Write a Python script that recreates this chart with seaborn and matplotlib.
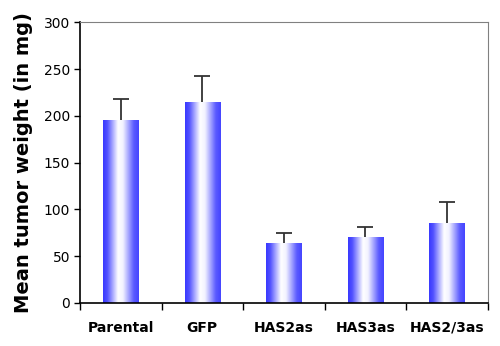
import numpy as np
import pandas as pd
import matplotlib
matplotlib.use("Agg")
import matplotlib.pyplot as plt
from matplotlib.colors import LinearSegmentedColormap
import seaborn as sns

groups = ["Parental", "GFP", "HAS2as", "HAS3as", "HAS2/3as"]
mean_weight = [196, 215, 64, 70, 85]
sem_weight = [22, 28, 11, 11, 23]

sns.set_theme(style="white")
plt.rcParams["font.family"] = ["DejaVu Sans"]
plt.rcParams["text.color"] = "black"
plt.rcParams["axes.labelcolor"] = "black"
plt.rcParams["xtick.color"] = "black"
plt.rcParams["ytick.color"] = "black"

df = pd.DataFrame({"group": groups, "weight": mean_weight})

fig, ax = plt.subplots(figsize=(5.0, 3.46), dpi=100)
fig.subplots_adjust(left=0.16, right=0.975, bottom=0.125, top=0.935)

sns.barplot(data=df, x="group", y="weight", ax=ax, width=0.43,
            color="#4a4aff", errorbar=None, linewidth=0)

# upward-only error bars (lower cap hidden)
xs = np.arange(len(groups))
_, caps, _ = ax.errorbar(xs, mean_weight,
                         yerr=[np.zeros(len(groups)), sem_weight],
                         fmt="none", ecolor="#333333", elinewidth=1.3,
                         capsize=5.5, capthick=1.3, zorder=3)
caps[0].set_visible(False)

# horizontal blue-white-blue gradient inside each bar
cmap = LinearSegmentedColormap.from_list(
    "bw", [(0.0, "#3838ff"), (0.12, "#5252ff"), (0.42, "#ffffff"),
           (0.56, "#f2f2ff"), (0.86, "#5a5aff"), (1.0, "#4444ff")])
grad = np.linspace(0, 1, 256).reshape(1, -1)
for patch in list(ax.patches):
    x0, y0 = patch.get_x(), patch.get_y()
    w, h = patch.get_width(), patch.get_height()
    im = ax.imshow(grad, cmap=cmap, aspect="auto",
                   extent=[x0, x0 + w, y0, y0 + h], zorder=2,
                   interpolation="bicubic")
    im.set_clip_path(patch)
    patch.set_facecolor("none")

ax.set_xlim(-0.5, len(groups) - 0.5)
ax.set_ylim(0, 300)
ax.set_yticks(range(0, 301, 50))
ax.set_xlabel("")
ax.set_ylabel("Mean tumor weight (in mg)", fontsize=14, fontweight="bold",
              labelpad=8)
ax.tick_params(axis="y", labelsize=10, length=4, width=1, direction="out",
               left=True, pad=3)
ax.tick_params(axis="x", labelsize=10, length=0, pad=13)
for lbl in ax.get_xticklabels():
    lbl.set_fontweight("bold")

# category separators on the x axis
ax.set_xticks(np.arange(-0.5, len(groups), 1.0), minor=True)
ax.tick_params(axis="x", which="minor", length=5, width=1, bottom=True,
               direction="out")

for side in ["left", "bottom"]:
    ax.spines[side].set_color("black")
    ax.spines[side].set_linewidth(1.2)
for side in ["top", "right"]:
    ax.spines[side].set_color("#808080")
    ax.spines[side].set_linewidth(0.8)

fig.savefig("out.png", dpi=100, facecolor="white")
